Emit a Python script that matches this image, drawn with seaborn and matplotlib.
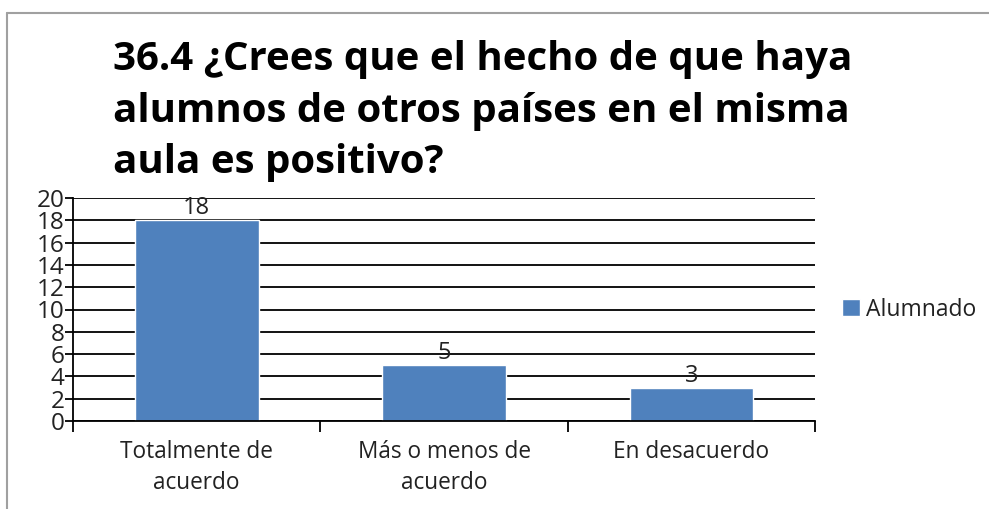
import matplotlib
matplotlib.use("Agg")
import matplotlib.pyplot as plt
import seaborn as sns
import pandas as pd
from matplotlib.lines import Line2D
from matplotlib.ticker import MultipleLocator, FixedLocator

categories = ["Totalmente de\nacuerdo", "Más o menos de\nacuerdo", "En desacuerdo"]
values = [18, 5, 3]
series_name = "Alumnado"
title = "36.4 ¿Crees que el hecho de que haya\nalumnos de otros países en el misma\naula es positivo?"

sns.set_theme(style="white")
plt.rcParams['font.family'] = ['Open Sans', 'DejaVu Sans']

df = pd.DataFrame({"cat": categories, "val": values, "serie": series_name})

fig = plt.figure(figsize=(9.89, 5.09), dpi=100)
ax = fig.add_axes([73/989, 1-421/509, (815-73)/989, (421-198)/509])

sns.barplot(data=df, x="cat", y="val", hue="serie", palette=["#4F81BD"],
            width=0.5, ax=ax, saturation=1, legend=True)

ax.set_ylim(0, 20)
ax.set_xlim(-0.5, 2.5)
ax.yaxis.set_major_locator(MultipleLocator(2))
ax.set_axisbelow(True)
ax.grid(axis="y", color="black", linewidth=1.3)
ax.grid(axis="x", visible=False)
for s in ["top", "right"]:
    ax.spines[s].set_visible(False)
for s in ["left", "bottom"]:
    ax.spines[s].set_color("black")
    ax.spines[s].set_linewidth(1.3)
ax.set_xlabel("")
ax.set_ylabel("")
ax.tick_params(axis="y", which="major", direction="out", length=6, width=1.3, color="black",
               labelsize=17.5, pad=0, left=True, labelcolor="#222222")
ax.tick_params(axis="x", which="major", length=0, labelsize=16.3, pad=14, labelcolor="#222222")
ax.xaxis.set_minor_locator(FixedLocator([-0.5, 0.5, 1.5, 2.5]))
ax.tick_params(axis="x", which="minor", direction="out", length=8, width=1.3, color="black", bottom=True)
for lbl in ax.get_xticklabels():
    lbl.set_linespacing(1.35)

for c in ax.containers:
    ax.bar_label(c, fontsize=17, padding=0, color="#222222")

leg = ax.legend(loc="center left", bbox_to_anchor=(1.036, 0.5), frameon=False, borderpad=0,
                borderaxespad=0, fontsize=16.5, handlelength=0.78, handleheight=0.78,
                handletextpad=0.28)
for t in leg.get_texts():
    t.set_color("#222222")

fig.text(113/989, 1-40/509, title, fontsize=29, fontweight="bold", ha="left", va="top",
         linespacing=1.42, color="black")

fig.add_artist(Line2D([7/989, 1], [1-13/509, 1-13/509], color="#A0A0A0", lw=1.5,
                      transform=fig.transFigure))
fig.add_artist(Line2D([7/989, 7/989], [0, 1-13/509], color="#A0A0A0", lw=1.5,
                      transform=fig.transFigure))

fig.savefig("out.png", dpi=100)
